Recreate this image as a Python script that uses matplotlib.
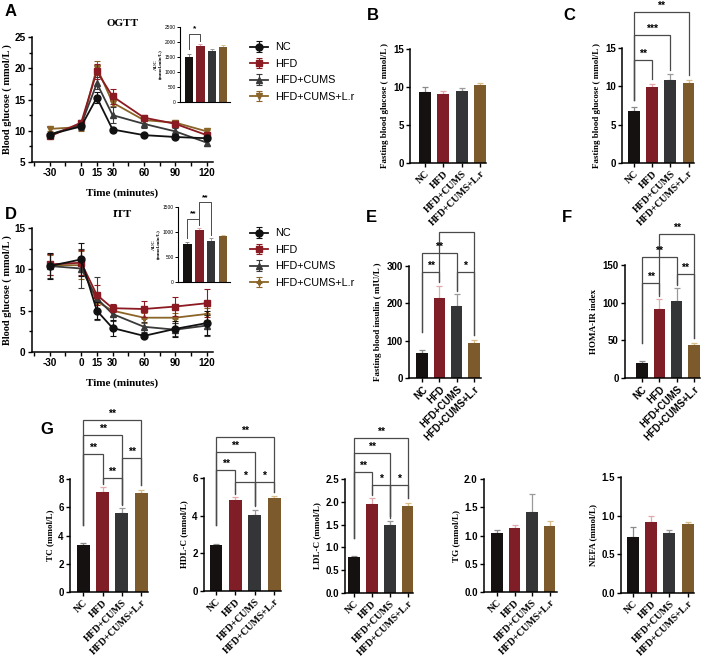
import matplotlib
matplotlib.use("Agg")
import matplotlib.pyplot as plt
from matplotlib.ticker import AutoMinorLocator

# ---- data ----
groups = ["NC", "HFD", "HFD+CUMS", "HFD+CUMS+L.r"]
times = [-30, 0, 15, 30, 60, 90, 120]

ogtt_nc = [9.4, 10.7, 15.3, 10.2, 9.3, 9.0, 8.8]
ogtt_hfd = [9.1, 11.3, 19.5, 15.5, 12.1, 11.1, 9.3]
ogtt_cums = [9.4, 11.0, 17.6, 12.5, 11.1, 9.9, 8.1]
ogtt_lr = [10.3, 10.6, 20.1, 14.5, 11.7, 11.3, 9.9]
ogtt_nc_err = [0.3, 0.4, 0.9, 0.3, 0.3, 0.3, 0.3]
ogtt_hfd_err = [0.3, 0.5, 1.2, 1.2, 0.4, 0.4, 0.5]
ogtt_cums_err = [0.3, 0.8, 1.0, 1.3, 0.6, 0.5, 0.5]
ogtt_lr_err = [0.3, 0.6, 1.1, 0.6, 0.5, 0.4, 0.3]
ogtt_auc = [1510, 1870, 1700, 1840]
ogtt_auc_err = [90, 50, 80, 60]

itt_nc = [10.4, 11.2, 5.0, 2.9, 1.95, 2.8, 3.5]
itt_hfd = [10.6, 10.8, 6.9, 5.3, 5.2, 5.5, 5.9]
itt_cums = [10.4, 10.1, 6.5, 4.6, 3.05, 2.7, 3.2]
itt_lr = [10.5, 10.5, 6.1, 5.0, 4.15, 4.15, 4.6]
itt_nc_err = [1.6, 2.0, 1.0, 1.0, 0.3, 1.0, 1.4]
itt_hfd_err = [1.3, 1.5, 1.2, 0.5, 1.0, 1.2, 1.7]
itt_cums_err = [1.5, 2.3, 2.6, 0.8, 0.6, 0.8, 1.3]
itt_lr_err = [1.2, 1.7, 1.0, 0.6, 0.6, 0.6, 0.7]
itt_auc = [750, 1040, 810, 920]
itt_auc_err = [40, 30, 60, 25]

fbg_b = [9.3, 9.1, 9.45, 10.2]
fbg_b_err = [0.75, 0.4, 0.4, 0.35]
fbg_c = [6.8, 9.85, 10.8, 10.4]
fbg_c_err = [0.55, 0.5, 0.75, 0.45]
insulin = [68, 215, 194, 95]
insulin_err = [8, 32, 30, 7]
homa = [20, 92, 102, 44]
homa_err = [3, 13, 17, 3]
tc = [3.35, 7.05, 5.6, 7.0]
tc_err = [0.12, 0.35, 0.33, 0.22]
hdl = [2.42, 4.82, 4.02, 4.92]
hdl_err = [0.1, 0.15, 0.3, 0.1]
ldl = [0.78, 1.95, 1.5, 1.9]
ldl_err = [0.03, 0.13, 0.08, 0.08]
tg = [1.05, 1.13, 1.41, 1.16]
tg_err = [0.05, 0.05, 0.33, 0.1]
nefa = [0.73, 0.92, 0.77, 0.89]
nefa_err = [0.12, 0.07, 0.05, 0.03]

# significance brackets: (group i, group j, bracket height, label)
sig_ogtt_auc = [(0, 1, 2270, "*")]
sig_itt_auc = [(0, 1, 1260, "**"), (1, 2, 1590, "**")]
sig_c = [(0, 1, 13.4, "**"), (0, 2, 16.7, "***"), (0, 3, 19.7, "**")]
sig_e = [(0, 1, 284, "**"), (0, 2, 335, "**"), (2, 3, 284, "*"), (1, 3, 391, "")]
sig_f = [(0, 1, 126, "**"), (0, 2, 160, "**"), (2, 3, 138, "**"), (1, 3, 191, "**")]
sig_tc = [(0, 1, 9.8, "**"), (1, 2, 8.1, "**"), (0, 2, 11.1, "**"), (2, 3, 9.5, "**"), (0, 3, 12.2, "**")]
sig_hdl = [(0, 1, 6.4, "**"), (0, 2, 7.4, "**"), (0, 3, 8.2, "**"), (1, 2, 5.8, "*"), (2, 3, 5.8, "*")]
sig_ldl = [(0, 1, 2.65, "**"), (0, 2, 3.07, "**"), (0, 3, 3.4, "**"), (1, 2, 2.37, "*"), (2, 3, 2.37, "*")]

bar_colors = ["#151111", "#7f1e26", "#333536", "#7d5a2b"]
err_colors = ["#8a8a8a", "#e3a9ad", "#9a9a9a", "#d9bd8a"]
line_colors = ["#111111", "#8b1a22", "#3a3a3a", "#8a6428"]

W, H = 708, 657
SERIF = "Liberation Serif"
SANS = "Liberation Sans"

plt.rcParams["font.family"] = SANS
plt.rcParams["axes.linewidth"] = 1.1

fig = plt.figure(figsize=(W / 100, H / 100), dpi=100)


def px_axes(x0, y_top, x1, y_bot):
    return fig.add_axes([x0 / W, 1 - y_bot / H, (x1 - x0) / W, (y_bot - y_top) / H])


def style(ax, fs=7):
    for s in ["top", "right"]:
        ax.spines[s].set_visible(False)
    ax.tick_params(direction="out", length=3, width=1, labelsize=fs, pad=1.5)
    for lab in ax.get_yticklabels():
        lab.set_fontweight("bold")
    for lab in ax.get_xticklabels():
        lab.set_fontweight("bold")


def brackets(ax, vals, errs, sigs, left_gap=0.16, fs=7.5):
    ymax = ax.get_ylim()[1]
    for i, j, top, lab in sigs:
        gi = left_gap if i == 0 else 0.03
        yi = vals[i] + errs[i] + gi * ymax
        yj = vals[j] + errs[j] + 0.04 * ymax
        ax.plot([i, i, j, j], [yi, top, top, yj], color="#4a4a4a", lw=0.9,
                clip_on=False, solid_joinstyle="miter")
        if lab:
            ax.text((i + j) / 2, top + 0.01 * ymax, lab, ha="center", va="bottom",
                    fontsize=fs, fontweight="bold", clip_on=False)


def bar_panel(ax, vals, errs, ylim, yticks, ylabel, xlim, sigs=None, fs=7,
              catfs=6.0, catfam=SERIF, ylfs=6.5, left_gap=0.16):
    x = range(len(vals))
    ax.bar(x, vals, width=0.66, color=bar_colors, zorder=2)
    for k in x:
        ax.errorbar(k, vals[k], yerr=[[0], [errs[k]]], fmt="none",
                    ecolor=err_colors[k], elinewidth=0.9, capsize=2.2, capthick=0.9, zorder=1)
    ax.set_ylim(*ylim)
    ax.set_yticks(yticks)
    ax.set_xlim(*xlim)
    ax.set_xticks(list(x))
    ax.set_xticklabels(groups, rotation=45, ha="right", rotation_mode="anchor",
                       family=catfam, fontweight="bold", fontsize=catfs)
    ax.set_ylabel(ylabel, family=SERIF, fontweight="bold", fontsize=ylfs, labelpad=3)
    style(ax, fs)
    if sigs:
        brackets(ax, vals, errs, sigs, left_gap=left_gap)


def line_panel(ax, series, errs, markers, ylim, yticks, title, msizes):
    for k in range(4):
        ax.errorbar(times, series[k], yerr=errs[k], color=line_colors[k], marker=markers[k],
                    ms=msizes[k], lw=1.3, elinewidth=0.8, capsize=2.5, capthick=0.8,
                    label=groups[k], zorder=5 - k)
    ax.set_xlim(-47, 126)
    ax.set_xticks(list(range(-45, 121, 15)))
    ax.set_xticklabels(["" if t not in times else str(t) for t in range(-45, 121, 15)])
    ax.set_ylim(*ylim)
    ax.set_yticks(yticks)
    ax.yaxis.set_minor_locator(AutoMinorLocator(2))
    ax.tick_params(which="minor", length=2, width=1)
    ax.set_ylabel("Blood glucose ( mmol/L )", family=SERIF, fontweight="bold",
                  fontsize=7.5, labelpad=2)
    ax.set_xlabel("Time (minutes)", family=SERIF, fontweight="bold", fontsize=8, labelpad=7)
    ax.set_title(title, family=SERIF, fontweight="bold", fontsize=8, pad=8, x=0.5)
    style(ax, 7.2)


def inset(ax, vals, errs, ylim, yticks, sigs):
    x = range(4)
    ax.bar(x, vals, width=0.72, color=bar_colors, zorder=2)
    for k in x:
        ax.errorbar(k, vals[k], yerr=[[0], [errs[k]]], fmt="none",
                    ecolor=err_colors[k], elinewidth=0.7, capsize=1.5, capthick=0.7, zorder=1)
    ax.set_ylim(*ylim)
    ax.set_yticks(yticks)
    ax.set_xlim(-0.8, 3.6)
    ax.set_xticks([])
    for s in ["top", "right"]:
        ax.spines[s].set_visible(False)
    for s in ["left", "bottom"]:
        ax.spines[s].set_linewidth(0.8)
    ax.tick_params(axis="y", length=2, width=0.7, labelsize=3.5, pad=1)
    ax.set_ylabel("AUC\n(mmol.min/L)", family=SERIF, fontweight="bold", fontsize=3.6,
                  labelpad=2, linespacing=0.9)
    ymax = ylim[1]
    for i, j, top, lab in sigs:
        yi = vals[i] + errs[i] + 0.06 * ymax
        yj = vals[j] + errs[j] + 0.04 * ymax
        ax.plot([i, i, j, j], [yi, top, top, yj], color="#4a4a4a", lw=0.7, clip_on=False)
        ax.text((i + j) / 2, top + 0.02 * ymax, lab, ha="center", va="bottom",
                fontsize=6, fontweight="bold", clip_on=False)


def letter(x, y, s):
    fig.text(x / W, 1 - y / H, s, fontsize=12, fontweight="bold", ha="left", va="center")


leg_kw = dict(frameon=False, fontsize=7.8, handlelength=1.6, handletextpad=0.7,
              labelspacing=0.6, borderaxespad=0, bbox_transform=fig.transFigure,
              loc="upper left")

# ---- A: OGTT ----
axA = px_axes(32, 37, 213, 162)
line_panel(axA, [ogtt_nc, ogtt_hfd, ogtt_cums, ogtt_lr],
           [ogtt_nc_err, ogtt_hfd_err, ogtt_cums_err, ogtt_lr_err],
           ["o", "s", "^", "v"], (5, 25), [5, 10, 15, 20, 25], "OGTT", [5, 5, 4.5, 5])
axA.legend(bbox_to_anchor=(246 / W, 1 - 38 / H), **leg_kw)
axAi = px_axes(180, 27, 230, 102)
inset(axAi, ogtt_auc, ogtt_auc_err, (0, 2500), [0, 500, 1000, 1500, 2000, 2500], sig_ogtt_auc)

# ---- D: ITT ----
axD = px_axes(32, 228, 213, 352)
line_panel(axD, [itt_nc, itt_hfd, itt_cums, itt_lr],
           [itt_nc_err, itt_hfd_err, itt_cums_err, itt_lr_err],
           ["o", "s", "^", "P"], (0, 15), [0, 5, 10, 15], "ITT", [5, 5, 4.5, 3.5])
axD.legend(bbox_to_anchor=(246 / W, 1 - 224 / H), **leg_kw)
axDi = px_axes(178, 207, 230, 282)
inset(axDi, itt_auc, itt_auc_err, (0, 1500), [0, 500, 1000, 1500], sig_itt_auc)

# ---- B, C ----
axB = px_axes(410, 49, 486, 163)
bar_panel(axB, fbg_b, fbg_b_err, (0, 15), [0, 5, 10, 15],
          "Fasting blood glucose ( mmol/L )", (-0.82, 3.32))
axC = px_axes(622, 48, 694, 163)
bar_panel(axC, fbg_c, fbg_c_err, (0, 15), [0, 5, 10, 15],
          "Fasting blood glucose ( mmol/L )", (-0.67, 3.3), sig_c, left_gap=0.06)

# ---- E, F ----
axE = px_axes(409, 266, 481, 378)
bar_panel(axE, insulin, insulin_err, (0, 300), [0, 100, 200, 300],
          "Fasting blood insulin ( mIU/L )", (-0.76, 3.4), sig_e, catfs=6.5, catfam=SANS)
axF = px_axes(625, 265, 700, 378)
bar_panel(axF, homa, homa_err, (0, 150), [0, 50, 100, 150],
          "HOMA-IR index", (-0.98, 3.35), sig_f, catfs=6.5, catfam=SANS)

# ---- G ----
gfs = 5.1
axTC = px_axes(70, 479, 148, 592)
bar_panel(axTC, tc, tc_err, (0, 8), [0, 2, 4, 6, 8], "TC (mmol/L)", (-0.68, 3.35), sig_tc,
          catfs=gfs)
axHDL = px_axes(204, 478, 281, 591)
bar_panel(axHDL, hdl, hdl_err, (0, 6), [0, 2, 4, 6], "HDL-C (mmol/L)", (-0.62, 3.35), sig_hdl,
          catfs=gfs)
axLDL = px_axes(345, 479, 413, 593)
bar_panel(axLDL, ldl, ldl_err, (0, 2.5), [0.0, 0.5, 1.0, 1.5, 2.0, 2.5], "LDL-C (mmol/L)",
          (-0.5, 3.3), sig_ldl, catfs=gfs)
axLDL.set_yticklabels(["0.0", "0.5", "1.0", "1.5", "2.0", "2.5"], fontweight="bold")
axTG = px_axes(484, 479, 557, 592)
bar_panel(axTG, tg, tg_err, (0, 2.0), [0.0, 0.5, 1.0, 1.5, 2.0], "TG (mmol/L)", (-0.74, 3.42),
          catfs=gfs)
axTG.set_yticklabels(["0.0", "0.5", "1.0", "1.5", "2.0"], fontweight="bold")
axN = px_axes(621, 477, 694, 593)
bar_panel(axN, nefa, nefa_err, (0, 1.5), [0.0, 0.5, 1.0, 1.5], "NEFA (mmol/L)", (-0.67, 3.35),
          catfs=gfs)
axN.set_yticklabels(["0.0", "0.5", "1.0", "1.5"], fontweight="bold")

letter(5, 12, "A")
letter(367, 16, "B")
letter(563, 16, "C")
letter(5, 215, "D")
letter(366, 218, "E")
letter(562, 218, "F")
letter(40, 430, "G")

fig.savefig("out.png", dpi=100)
